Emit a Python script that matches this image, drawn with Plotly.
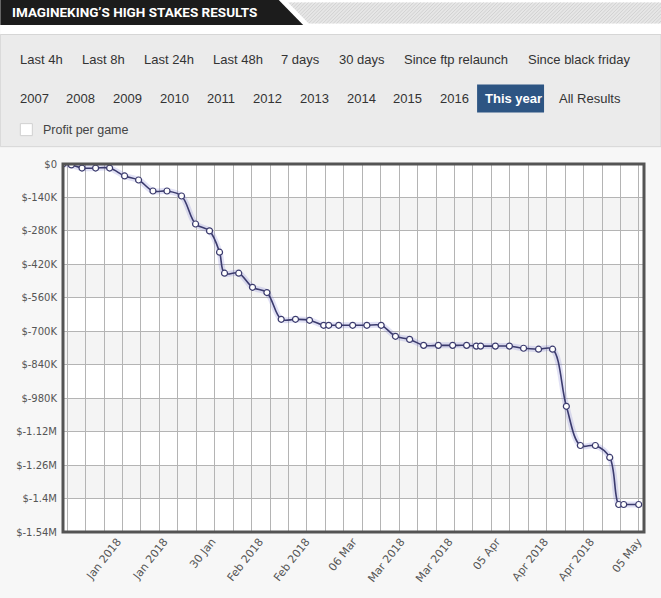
import plotly.graph_objects as go

# ---------------- data ----------------
x_pos = [0, 1.81, 4.12, 7.07, 10.11, 13.36, 16.39, 19.51, 22.55, 25.71, 28.75,
         31.78, 33.95, 35.03, 38.11, 41.10, 44.22, 47.32, 50.42, 53.46, 56.53,
         57.62, 59.79, 62.82, 65.90, 69.00, 72.10, 75.17, 78.21, 81.40, 84.50,
         87.53, 89.63, 90.57, 93.77, 96.81, 99.88, 103.13, 106.17, 109.16,
         112.20, 115.45, 118.57, 120.52, 121.60, 124.85]
profit = [0, -4e3, -17e3, -17e3, -17e3, -50e3, -67e3, -113e3, -113e3, -134e3,
          -251e3, -280e3, -369e3, -457e3, -457e3, -516e3, -538e3, -650e3,
          -650e3, -654e3, -675e3, -675e3, -675e3, -675e3, -675e3, -675e3,
          -721e3, -734e3, -759e3, -759e3, -759e3, -759e3, -762e3, -762e3,
          -762e3, -762e3, -771e3, -775e3, -775e3, -1014e3, -1178e3, -1178e3,
          -1228e3, -1425e3, -1425e3, -1425e3]

x_tick_pos = [11.8, 21.9, 32.3, 42.6, 52.7, 62.9, 73.3, 83.7, 94.0, 104.4, 114.4, 124.7]
x_tick_text = ["Jan 2018", "Jan 2018", "30 Jan", "Feb 2018", "Feb 2018", "06 Mar",
               "Mar 2018", "Mar 2018", "05 Apr", "Apr 2018", "Apr 2018", "05 May"]
y_tick_vals = [0, -140e3, -280e3, -420e3, -560e3, -700e3, -840e3, -980e3,
               -1120e3, -1260e3, -1400e3, -1540e3]
y_tick_text = ["$0", "$-140K", "$-280K", "$-420K", "$-560K", "$-700K", "$-840K",
               "$-980K", "$-1.12M", "$-1.26M", "$-1.4M", "$-1.54M"]

row1_labels = ["Last 4h", "Last 8h", "Last 24h", "Last 48h", "7 days", "30 days",
               "Since ftp relaunch", "Since black friday"]
row2_labels = ["2007", "2008", "2009", "2010", "2011", "2012", "2013", "2014",
               "2015", "2016", "This year", "All Results"]
title_text = "IMAGINEKING\u2019S HIGH STAKES RESULTS"

# ---------------- layout geometry ----------------
W, H = 661, 598
L, R, T, B = 62.7, 17.0, 164.3, 66.3
PW, PH = W - L - R, H - T - B


def X(px):
    return (px - L) / PW


def Y(py):
    return (T + PH - py) / PH


LINE = "#3b3b6e"
BTN_FONT = "Liberation Sans, Arial, sans-serif"
TITLE_FONT = "Roboto, Liberation Sans, sans-serif"

fig = go.Figure()
fig.add_trace(go.Scatter(x=x_pos, y=profit, mode="lines",
                         line=dict(color="rgba(120,120,210,0.22)", width=6,
                                   shape="spline", smoothing=1),
                         hoverinfo="skip", showlegend=False))
fig.add_trace(go.Scatter(x=x_pos, y=profit, mode="lines+markers",
                         line=dict(color=LINE, width=1.6, shape="spline", smoothing=1),
                         marker=dict(size=6, color="white",
                                     line=dict(color=LINE, width=1.2)),
                         showlegend=False))

shapes = []
# alternating horizontal bands inside the plot
for i in range(len(y_tick_vals) - 1):
    if i % 2 == 1:
        shapes.append(dict(type="rect", xref="paper", yref="y", x0=0, x1=1,
                           y0=y_tick_vals[i], y1=y_tick_vals[i + 1],
                           fillcolor="#f4f4f4", line=dict(width=0), layer="below"))


def rect(x0, y0, x1, y1, fill, line=None, lw=0):
    return dict(type="rect", xref="paper", yref="paper",
                x0=X(x0), x1=X(x1), y0=Y(y1), y1=Y(y0),
                fillcolor=fill, line=dict(width=lw, color=line or fill),
                layer="below")


def poly(pts, fill):
    p = "M " + " L ".join(f"{X(a):.5f},{Y(b):.5f}" for a, b in pts) + " Z"
    return dict(type="path", xref="paper", yref="paper", path=p,
                fillcolor=fill, line=dict(width=0), layer="below")


shapes.append(rect(0, 0, W, 35, "white"))
# hatched strip
shapes.append(rect(280, 3, W, 24, "#e6e6e6"))
segs = []
x = 270
while x < W + 25:
    segs.append(f"M {X(x):.5f},{Y(24):.5f} L {X(x + 21):.5f},{Y(3):.5f}")
    x += 3.5
shapes.append(dict(type="path", xref="paper", yref="paper", path=" ".join(segs),
                   line=dict(color="#d2d2d2", width=1), layer="below"))
shapes.append(poly([(270, 0), (285, 0), (310, 25.5), (270, 25.5)], "white"))
shapes.append(poly([(0, 0), (278, 0), (303, 25.5), (0, 25.5)], "#1c1c1c"))
# button panel
shapes.append(rect(0, 35, W, 147, "#ebebeb", "#d6d6d6", 1))
shapes.append(rect(477, 85, 544, 113, "#2d5583"))
shapes.append(rect(20, 124, 32, 136, "white", "#d0d0d0", 1))
# plot border
shapes.append(dict(type="rect", xref="paper", yref="paper", x0=0, x1=1, y0=0, y1=1,
                   line=dict(color="#545454", width=3), layer="above"))

annotations = [dict(text=f"<b>{title_text}</b>", xref="paper", yref="paper",
                    x=X(10), y=Y(13), xanchor="left", yanchor="middle",
                    showarrow=False,
                    font=dict(family=TITLE_FONT, size=13.5, color="white"))]
row1_x = [18, 80, 142, 211, 279, 337, 402, 526]
row2_x = [18, 64, 111, 158, 205, 251, 298, 345, 391, 438, 483, 557]
for lab, px in zip(row1_labels, row1_x):
    annotations.append(dict(text=lab, xref="paper", yref="paper", x=X(px), y=Y(60),
                            xanchor="left", yanchor="middle", showarrow=False,
                            font=dict(family=BTN_FONT, size=13, color="#333333")))
for lab, px in zip(row2_labels, row2_x):
    sel = lab == "This year"
    annotations.append(dict(text=f"<b>{lab}</b>" if sel else lab, xref="paper",
                            yref="paper", x=X(px), y=Y(99),
                            xanchor="left", yanchor="middle", showarrow=False,
                            font=dict(family=BTN_FONT, size=13,
                                      color="white" if sel else "#333333")))
annotations.append(dict(text="Profit per game", xref="paper", yref="paper",
                        x=X(41), y=Y(130.5), xanchor="left", yanchor="middle",
                        showarrow=False,
                        font=dict(family=BTN_FONT, size=12.5, color="#444444")))

fig.update_layout(
    width=W, height=H,
    margin=dict(l=L, r=R, t=T, b=B, pad=0),
    paper_bgcolor="#f7f7f7", plot_bgcolor="white",
    shapes=shapes, annotations=annotations,
    xaxis=dict(range=[0, 126], tickmode="array", tickvals=x_tick_pos,
               ticktext=x_tick_text, tickangle=-52, showgrid=False,
               zeroline=False, showline=False, ticks="",
               tickfont=dict(family="DejaVu Sans, Verdana, sans-serif", size=11,
                             color="#555555"),
               minor=dict(tick0=4.9, dtick=4.0, showgrid=True,
                          gridcolor="#b4b4b4", gridwidth=1, ticks="")),
    yaxis=dict(range=[-1540e3, 0], tickmode="array", tickvals=y_tick_vals,
               ticktext=y_tick_text, showgrid=True, gridcolor="#b4b4b4",
               gridwidth=1, zeroline=False, showline=False, ticks="",
               ticklabelstandoff=5,
               tickfont=dict(family="DejaVu Sans, Verdana, sans-serif", size=10,
                             color="#555555")),
    hovermode=False,
)

fig.write_html("out.html")
